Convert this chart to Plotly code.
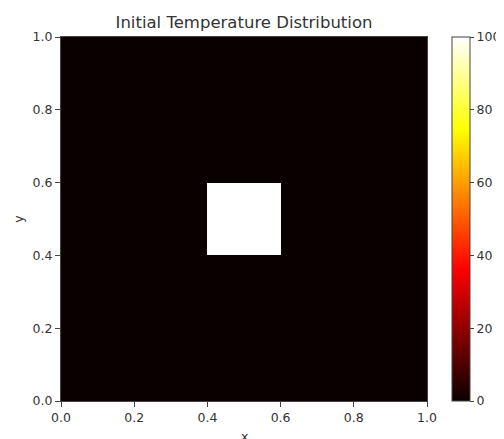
import plotly.graph_objects as go

# Grid cell edges (x and y) and temperature values per cell
x_edges = [0.0, 0.4, 0.6, 1.0]
y_edges = [0.0, 0.4, 0.6, 1.0]
temperature = [
    [0, 0, 0],
    [0, 100, 0],
    [0, 0, 0],
]
tick_vals = [0.0, 0.2, 0.4, 0.6, 0.8, 1.0]
tick_text = ["0.0", "0.2", "0.4", "0.6", "0.8", "1.0"]
cbar_ticks = [0, 20, 40, 60, 80, 100]

# matplotlib 'hot' colormap
hot = [
    [0.0, "rgb(11,0,0)"],
    [0.365079, "rgb(255,0,0)"],
    [0.746032, "rgb(255,255,0)"],
    [1.0, "rgb(255,255,255)"],
]

# page body adds an 8px margin, so lay out on a canvas offset by 8px
W, H = 496, 431
L, T = 53, 29
PW, PH = 366, 364

font = "DejaVu Sans"
txt = "#333"
fig = go.Figure(
    go.Heatmap(
        x=x_edges,
        y=y_edges,
        z=temperature,
        colorscale=hot,
        zmin=0,
        zmax=100,
        zsmooth=False,
        showscale=True,
        colorbar=dict(
            x=(452 - 61) / PW,
            xanchor="left",
            xpad=0,
            y=0.5,
            yanchor="middle",
            len=1,
            lenmode="fraction",
            ypad=0,
            thickness=18,
            outlinewidth=1,
            outlinecolor="#444",
            ticks="outside",
            ticklen=4,
            tickcolor="#444",
            tickvals=cbar_ticks,
            tickfont=dict(family=font, size=12.5, color=txt),
        ),
    )
)

fig.update_layout(
    width=W,
    height=H,
    margin=dict(l=L, r=W - L - PW, t=T, b=H - T - PH, autoexpand=False),
    paper_bgcolor="white",
    plot_bgcolor="white",
    title=dict(
        text="Initial Temperature Distribution",
        x=(L + PW / 2) / W,
        xanchor="center",
        y=1 - 14 / H,
        yanchor="middle",
        font=dict(family=font, size=16.5, color=txt),
    ),
    font=dict(family=font, size=12.5, color=txt),
    annotations=[
        dict(
            text="x",
            xref="paper",
            yref="paper",
            x=0.5,
            y=-35 / PH,
            xanchor="center",
            yanchor="middle",
            showarrow=False,
            font=dict(family=font, size=12.5, color=txt),
        )
    ],
)

axis_common = dict(
    range=[0, 1],
    tickvals=tick_vals,
    ticktext=tick_text,
    showline=True,
    mirror=True,
    linecolor="#444",
    linewidth=1,
    ticks="outside",
    ticklen=5,
    tickcolor="#444",
    showgrid=False,
    zeroline=False,
    automargin=False,
    tickfont=dict(family=font, size=12.5, color=txt),
)

fig.update_xaxes(**axis_common)
fig.update_yaxes(
    **axis_common,
    title=dict(text="y", standoff=6, font=dict(family=font, size=12.5, color=txt)),
)

fig.write_html("out.html")
